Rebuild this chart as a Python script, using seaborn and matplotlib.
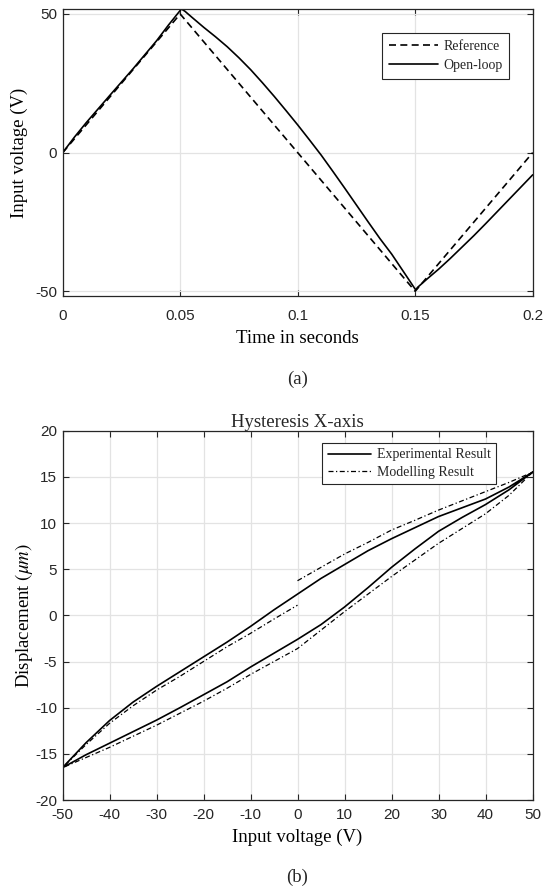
import numpy as np
import pandas as pd
import matplotlib
matplotlib.use("Agg")
import matplotlib.pyplot as plt
import seaborn as sns

# ---------------- data: panel (a) ----------------
t_ref = [0.0, 0.05, 0.15, 0.2]
v_ref = [0.0, 50.0, -50.0, 0.0]

t_open = [0.0, 0.005, 0.01, 0.02, 0.03, 0.04, 0.045, 0.0505, 0.052, 0.055,
          0.06, 0.065, 0.07, 0.075, 0.08, 0.085, 0.09, 0.095, 0.10, 0.105,
          0.11, 0.115, 0.12, 0.125, 0.13, 0.135, 0.14, 0.145, 0.148, 0.1502,
          0.151, 0.155, 0.16, 0.165, 0.17, 0.175, 0.18, 0.185, 0.19, 0.195, 0.2]
v_open = [0.0, 5.6, 10.8, 20.6, 30.3, 40.4, 46.0, 51.8, 51.0, 48.8,
          45.2, 41.8, 38.2, 34.2, 29.9, 25.2, 20.3, 15.2, 10.0, 4.6,
          -0.9, -6.8, -12.8, -18.9, -25.0, -31.0, -36.6, -42.9, -46.7, -49.5,
          -48.6, -45.6, -42.0, -38.1, -34.0, -29.9, -25.6, -21.2, -16.8, -12.4, -8.0]

t_ticks = [0, 0.05, 0.1, 0.15, 0.2]
t_ticklabels = ["0", "0.05", "0.1", "0.15", "0.2"]
va_ticks = [-50, 0, 50]

# ---------------- data: panel (b) ----------------
# experimental loop: upper branch (50 -> -50) then lower branch (-50 -> 50)
exp_up_v = [50, 45, 40, 35, 30, 25, 20, 15, 10, 5, 0, -5, -10, -15, -20, -25,
            -30, -35, -40, -45, -50]
exp_up_d = [15.5, 13.9, 12.6, 11.65, 10.7, 9.5, 8.3, 7.0, 5.5, 4.0, 2.3, 0.6,
            -1.2, -2.9, -4.5, -6.1, -7.7, -9.4, -11.4, -13.8, -16.5]
exp_lo_v = [-50, -45, -40, -35, -30, -25, -20, -15, -10, -5, 0, 5, 10, 15, 20,
            25, 30, 35, 40, 45, 50]
exp_lo_d = [-16.5, -15.1, -13.85, -12.6, -11.35, -10.0, -8.6, -7.2, -5.6, -4.1,
            -2.6, -1.0, 0.9, 3.0, 5.2, 7.2, 9.1, 10.6, 12.0, 13.6, 15.5]

# modelling: upper right piece (0 -> 50), lower branch (50 -> -50), upper left piece (-50 -> 0)
mod_ur_v = [0, 5, 10, 15, 20, 25, 30, 35, 40, 45, 50]
mod_ur_d = [3.75, 5.2, 6.64, 7.9, 9.24, 10.3, 11.4, 12.4, 13.4, 14.4, 15.5]
mod_lo_v = [50, 45, 40, 35, 30, 25, 20, 15, 10, 5, 0, -5, -10, -15, -20, -25,
            -30, -35, -40, -45, -50]
mod_lo_d = [15.5, 13.0, 11.0, 9.4, 7.8, 6.0, 4.2, 2.3, 0.4, -1.6, -3.6, -5.0,
            -6.4, -7.9, -9.3, -10.6, -11.9, -13.1, -14.3, -15.4, -16.5]
mod_ul_v = [-50, -45, -40, -35, -30, -25, -20, -15, -10, -5, 0]
mod_ul_d = [-16.5, -14.0, -11.7, -9.8, -8.1, -6.6, -5.0, -3.4, -1.95, -0.4, 1.1]

vb_ticks = list(range(-50, 51, 10))
d_ticks = list(range(-20, 21, 5))

# ---------------- style ----------------
sns.set_theme(style="whitegrid")
plt.rcParams["font.family"] = ["Liberation Sans", "DejaVu Sans"]
plt.rcParams["mathtext.fontset"] = "stix"

SERIF = ["Liberation Serif", "DejaVu Serif"]
SPINE = "#262626"
GRID = "#e3e3e3"
LABEL_FS = 13.5

fig = plt.figure(figsize=(5.44, 8.89), dpi=100)
W, H = 544.0, 889.0

def style_axes(ax, xpad):
    ax.set_facecolor("white")
    ax.grid(True, color=GRID, linewidth=0.9)
    for s in ax.spines.values():
        s.set_visible(True)
        s.set_color(SPINE)
        s.set_linewidth(0.9)
    ax.tick_params(direction="in", length=4, width=0.8, color=SPINE,
                   labelsize=11, labelcolor=SPINE, top=True, right=True,
                   bottom=True, left=True)
    ax.tick_params(axis="x", pad=xpad)
    ax.tick_params(axis="y", pad=4)

# ---------------- panel (a) ----------------
ax1 = fig.add_axes([62.7 / W, 1 - 296 / H, 470 / W, 287 / H])
style_axes(ax1, 9)
df_ref = pd.DataFrame({"t": t_ref, "v": v_ref})
df_open = pd.DataFrame({"t": t_open, "v": v_open})
sns.lineplot(data=df_ref, x="t", y="v", ax=ax1, color="black", lw=1.2,
             sort=False, estimator=None, label="Reference",
             linestyle=(0, (4.2, 2.6)))
sns.lineplot(data=df_open, x="t", y="v", ax=ax1, color="black", lw=1.2,
             sort=False, estimator=None, label="Open-loop")
ax1.set_xlim(0, 0.2)
ax1.set_ylim(-51.7, 51.8)
ax1.set_xticks(t_ticks)
ax1.set_xticklabels(t_ticklabels)
ax1.set_yticks(va_ticks)
ax1.set_yticklabels([str(v) for v in va_ticks])
ax1.set_xlabel("Time in seconds", fontsize=LABEL_FS, family=SERIF, color="black")
ax1.set_ylabel("Input voltage (V)", fontsize=LABEL_FS, family=SERIF, color="black")
ax1.xaxis.set_label_coords(0.5, -0.118)
ax1.yaxis.set_label_coords(-(62.7 - 19) / 470, 0.5)
ax1.yaxis.label.set_va("center")
leg1 = ax1.legend(loc="upper right", bbox_to_anchor=(0.965, 0.942),
                  prop={"family": SERIF, "size": 10}, frameon=True,
                  fancybox=False, edgecolor=SPINE, framealpha=1,
                  handlelength=3.5, handletextpad=0.4, borderpad=0.5,
                  labelspacing=0.45)
leg1.get_frame().set_linewidth(0.8)
fig.text((62.7 + 235) / W, 1 - 379 / H, "(a)", ha="center", va="center",
         fontsize=LABEL_FS, family=SERIF)

# ---------------- panel (b) ----------------
ax2 = fig.add_axes([62.5 / W, 1 - 800 / H, 470 / W, 369.3 / H])
style_axes(ax2, 6)
df_exp = pd.DataFrame({"v": exp_up_v + exp_lo_v, "d": exp_up_d + exp_lo_d})
df_mod = pd.DataFrame({"v": mod_ur_v + mod_lo_v + mod_ul_v,
                       "d": mod_ur_d + mod_lo_d + mod_ul_d})
sns.lineplot(data=df_exp, x="v", y="d", ax=ax2, color="black", lw=1.2,
             sort=False, estimator=None, label="Experimental Result")
sns.lineplot(data=df_mod, x="v", y="d", ax=ax2, color="black", lw=0.9,
             sort=False, estimator=None, label="Modelling Result",
             linestyle=(0, (4, 2, 1, 2)))
ax2.set_xlim(-50, 50)
ax2.set_ylim(-20, 20)
ax2.set_xticks(vb_ticks)
ax2.set_xticklabels([str(v) for v in vb_ticks])
ax2.set_yticks(d_ticks)
ax2.set_yticklabels([str(v) for v in d_ticks])
ax2.set_title("Hysteresis X-axis", fontsize=LABEL_FS, family=SERIF, pad=3)
ax2.set_xlabel("Input voltage (V)", fontsize=LABEL_FS, family=SERIF, color="black")
ax2.set_ylabel(r"Displacement $(\mu m)$", fontsize=LABEL_FS, family=SERIF,
               color="black")
ax2.xaxis.set_label_coords(0.5, -0.078)
ax2.yaxis.set_label_coords(-(62.5 - 24) / 470, 0.5)
ax2.yaxis.label.set_va("center")
leg2 = ax2.legend(loc="upper right", bbox_to_anchor=(0.938, 0.986),
                  prop={"family": SERIF, "size": 10}, frameon=True,
                  fancybox=False, edgecolor=SPINE, framealpha=1,
                  handlelength=3.1, handletextpad=0.45, borderpad=0.4,
                  labelspacing=0.3)
leg2.get_frame().set_linewidth(0.8)
fig.text((62.5 + 235) / W, 1 - 877 / H, "(b)", ha="center", va="center",
         fontsize=LABEL_FS, family=SERIF)

fig.savefig("out.png", dpi=100, facecolor="white")
